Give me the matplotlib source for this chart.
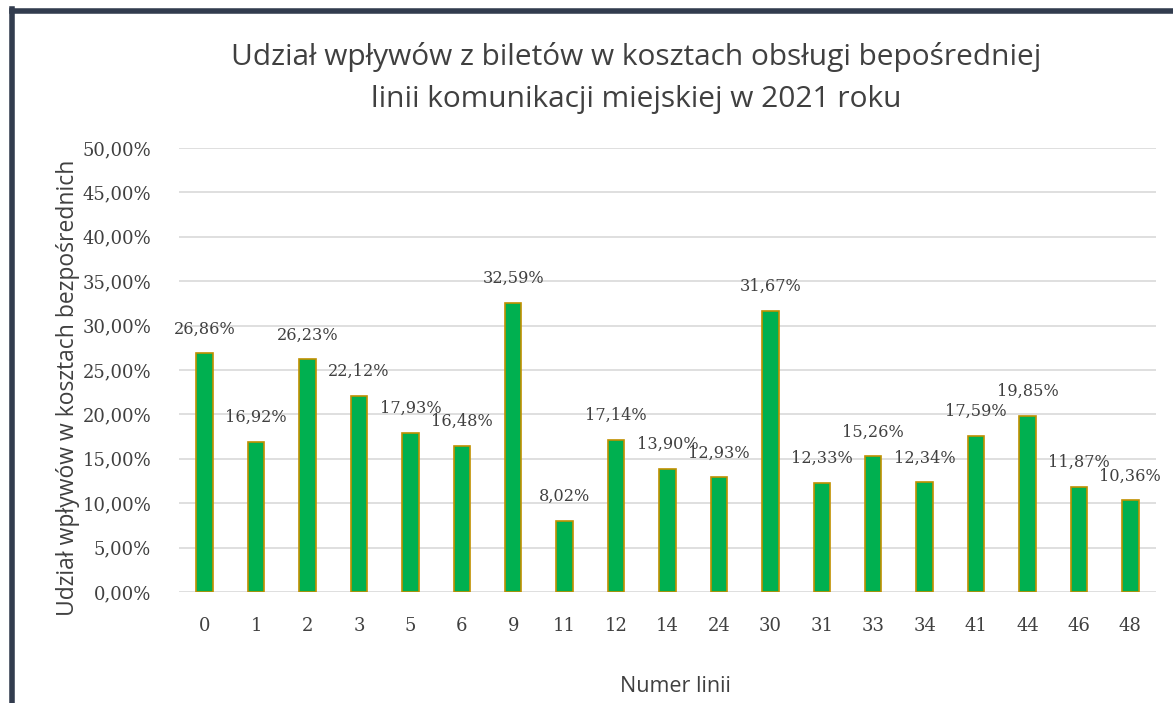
import numpy as np
import matplotlib.pyplot as plt
from matplotlib.lines import Line2D

# dane
linie = ['0', '1', '2', '3', '5', '6', '9', '11', '12', '14', '24', '30',
         '31', '33', '34', '41', '44', '46', '48']
udzial = [26.86, 16.92, 26.23, 22.12, 17.93, 16.48, 32.59, 8.02, 17.14, 13.90,
          12.93, 31.67, 12.33, 15.26, 12.34, 17.59, 19.85, 11.87, 10.36]
y_ticks = np.arange(0, 55, 5)

txt_color = '#404040'
fig = plt.figure(figsize=(11.73, 7.03), dpi=100)
ax = fig.add_axes([0.1526, 0.1579, 0.9855 - 0.1526, 0.6316])

x = np.arange(len(linie))
ax.bar(x, udzial, width=0.32, color='#00b050', edgecolor='#c09000', linewidth=1.2, zorder=3)

# etykiety danych
for xi, v in zip(x, udzial):
    ax.annotate(f'{v:.2f}%'.replace('.', ','), (xi, v), xytext=(0, 24),
                textcoords='offset pixels', ha='center', va='center',
                fontsize=11.6, color=txt_color, family='DejaVu Serif', zorder=4)

ax.set_xlim(-0.5, len(linie) - 0.5)
ax.set_ylim(0, 50)
ax.set_yticks(y_ticks)
ax.set_yticklabels([f'{t:.2f}%'.replace('.', ',') for t in y_ticks],
                   family='DejaVu Serif', fontsize=13, color=txt_color)
ax.set_xticks(x)
ax.set_xticklabels(linie, family='DejaVu Serif', fontsize=13, color=txt_color)
ax.tick_params(length=0, pad=20)
ax.tick_params(axis='x', pad=18)
ax.grid(axis='y', color='#d9d9d9', linewidth=1.2, zorder=0)
for s in ax.spines.values():
    s.set_visible(False)

fig.text(0.542, 0.889, 'Udział wpływów z biletów w kosztach obsługi bepośredniej\n'
         'linii komunikacji miejskiej w 2021 roku', ha='center', va='center',
         fontsize=21.5, color=txt_color, family='Open Sans', linespacing=1.6)
fig.text(0.576, 0.023, 'Numer linii', ha='center', va='center',
         fontsize=15.5, color=txt_color, family='Open Sans')
fig.text(0.058, 0.449, 'Udział wpływów w kosztach bezpośrednich', ha='center',
         va='center', rotation=90, fontsize=16.5, color=txt_color, family='Open Sans')

# ramka
fig.add_artist(Line2D([11.5 / 1173, 1], [1 - 10.5 / 703, 1 - 10.5 / 703],
                      color='#323c4e', linewidth=4, transform=fig.transFigure))
fig.add_artist(Line2D([11.5 / 1173, 11.5 / 1173], [0, 1 - 8.5 / 703],
                      color='#323c4e', linewidth=4, transform=fig.transFigure))

fig.savefig('out.png', dpi=100)
